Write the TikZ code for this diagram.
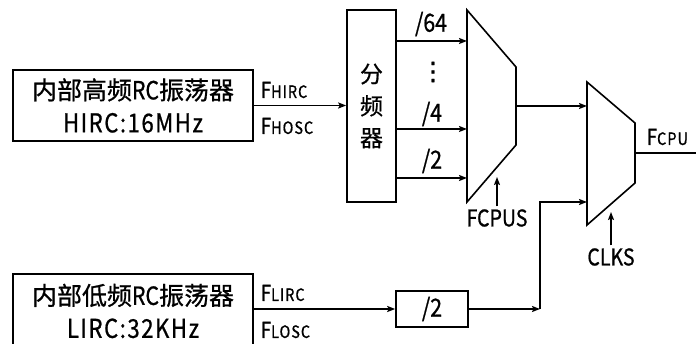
\documentclass[tikz,border=0pt]{standalone}
\usepackage{fontspec}
\setmainfont{Noto Sans CJK SC}
\newfontfamily\cjkf[FakeBold=0.8]{Noto Sans CJK SC}
\newfontfamily\latf[FakeStretch=0.85,FakeBold=0.8]{Noto Sans CJK SC}
\newfontfamily\monof[FakeStretch=0.85,FakeBold=0.8,LetterSpace=6]{Noto Sans CJK SC}
\newfontfamily\symf[FakeBold=1.5]{DejaVu Sans}
\usetikzlibrary{arrows.meta}
\newcommand\fsz[1]{\fontsize{#1}{#1}\selectfont}
\newcommand\flab[2]{{\latf\fsz{22}#1\monof\fsz{17}#2}}
\begin{document}
\begin{tikzpicture}[x=1pt,y=-1pt, line width=1.6pt,
  arr/.style={-{Stealth[length=8pt,width=6pt,inset=1.5pt]}},
  box/.style={draw, inner sep=0pt, align=center},
  lbl/.style={inner sep=0pt, anchor=west},
  txt/.style={inner sep=2pt, font=\latf\fsz{25}},
  ]
\useasboundingbox (0,0) rectangle (696,344);
\clip (0,0) rectangle (696,344);

% oscillators
\node[box, minimum width=240pt, minimum height=71pt, font=\cjkf\fontsize{25}{33}\selectfont] (hirc) at (133,105.5)
  {内部高频{\latf RC}振荡器\\{\monof\fontsize{26}{33}\selectfont HIRC:16MHz}};
\node[box, minimum width=240pt, minimum height=74pt, font=\cjkf\fontsize{25}{33}\selectfont] (lirc) at (133,311)
  {内部低频{\latf RC}振荡器\\{\monof\fontsize{26}{33}\selectfont LIRC:32KHz}};

\node[lbl] (fhirc) at (260,90) {\flab{F}{HIRC}};
\node[lbl] (fhosc) at (260,126) {\flab{F}{HOSC}};
\node[lbl] (flirc) at (260,293) {\flab{F}{LIRC}};
\node[lbl] (flosc) at (260,330) {\flab{F}{LOSC}};

% divider
\node[box, minimum width=49pt, minimum height=192pt, font=\cjkf\fontsize{23}{32}\selectfont] (div) at (371.5,106) {分\\频\\器};
\draw[arr] (hirc.east) -- (hirc.east -| div.west);

% mux 1
\coordinate (m1tl) at (467,10);
\coordinate (m1tr) at (516,67);
\coordinate (m1br) at (516,145);
\coordinate (m1bl) at (467,202);
\draw[line join=miter] (m1tl) -- (m1tr) -- (m1br) -- (m1bl) -- cycle;
\coordinate (m1a) at (467,41);
\coordinate (m1b) at (467,129);
\coordinate (m1c) at (467,178);
\coordinate (m1o) at (516,106);

\draw[arr] (div.east |- m1a) -- (m1a);
\draw[arr] (div.east |- m1b) -- (m1b);
\draw[arr] (div.east |- m1c) -- (m1c);
\node[txt] (l64) at (431,24) {/64};
\node[inner sep=0pt, font=\symf\fsz{25}] (dots) at (433,72) {⋮};
\node[txt] (l4) at (432,114) {/4};
\node[txt] (l2) at (432,161) {/2};

% mux 2
\coordinate (m2tl) at (587,82);
\coordinate (m2tr) at (635,123);
\coordinate (m2br) at (635,183);
\coordinate (m2bl) at (587,225);
\draw[line join=miter] (m2tl) -- (m2tr) -- (m2br) -- (m2bl) -- cycle;
\coordinate (m2a) at (587,106);
\coordinate (m2b) at (587,202);
\coordinate (m2o) at (635,153);
\coordinate (out) at (697,153);
\draw[arr] (m1o) -- (m2a);
\draw (m2o) -- (out);
\node[lbl] (fcpu) at (646,137) {\flab{F}{CPU}};

% selects
\node[txt, font=\latf\fsz{23}] (fcpus) at (497,218) {FCPUS};
\coordinate (fcpust) at (497,177);
\draw[arr] (fcpus.north) -- (fcpust);
\node[txt, font=\latf\fsz{23}] (clks) at (611,257) {CLKS};
\coordinate (clkst) at (611,212);
\draw[arr] (clks.north) -- (clkst);

% low freq path
\node[box, minimum width=72pt, minimum height=36pt, font=\latf\fsz{25}] (d2) at (432,309) {/2};
\draw[arr] (lirc.east |- d2.west) -- (d2.west);
\coordinate (j) at (540,309);
\draw[arr] (d2.east) -- (j);
\draw[arr] (j) |- (m2b);
\end{tikzpicture}
\end{document}
